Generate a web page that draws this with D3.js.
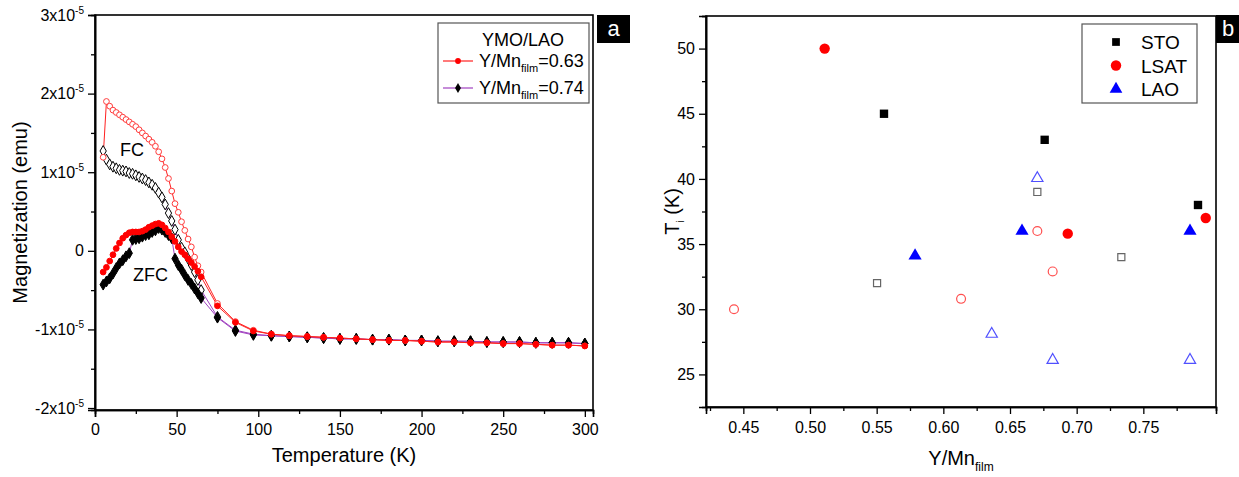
<!DOCTYPE html>
<html><head><meta charset="utf-8">
<script src="https://cdn.jsdelivr.net/npm/d3@7"></script>
<style>
body{margin:0;background:#fff;}
svg{display:block;font-family:"Liberation Sans",Arial,sans-serif;}
</style></head>
<body><svg id="c" width="1239" height="477"></svg>
<script>
// ---------- Panel a data (M in units of 1e-5 emu) ----------
const tempsA = [5,7,9,11,13,15,17,19,21,23,25,27,29,31,33,35,37,39,41,43,45,47,49,51,53,55,57,59,61,63,65,75,86,97,108,119,130,140,150,160,170,180,190,200,210,220,230,240,250,260,270,280,290,300];
const fc063 = [1.19,1.90,1.84,1.79,1.76,1.73,1.70,1.67,1.64,1.61,1.58,1.54,1.50,1.46,1.42,1.38,1.33,1.26,1.17,1.06,0.92,0.76,0.60,0.49,0.37,0.26,0.15,0.05,-0.08,-0.19,-0.27,
  -0.67,-0.90,-1.01,-1.06,-1.08,-1.09,-1.10,-1.11,-1.12,-1.13,-1.14,-1.14,-1.15,-1.16,-1.16,-1.17,-1.17,-1.18,-1.18,-1.19,-1.20,-1.20,-1.21];
const zfc063 = [-0.27,-0.21,-0.13,-0.05,0.03,0.10,0.16,0.20,0.23,0.24,0.24,0.24,0.25,0.27,0.30,0.32,0.34,0.35,0.33,0.29,0.24,0.18,0.12,0.05,-0.01,-0.05,-0.10,-0.15,-0.20,-0.26,-0.33,
  -0.70,-0.91,-1.02,-1.06,-1.08,-1.09,-1.10,-1.11,-1.12,-1.13,-1.14,-1.14,-1.15,-1.16,-1.16,-1.17,-1.17,-1.18,-1.18,-1.19,-1.20,-1.20,-1.21];
const fc074 = [1.27,1.16,1.10,1.07,1.05,1.03,1.02,1.01,0.99,0.98,0.96,0.94,0.92,0.90,0.87,0.84,0.80,0.74,0.68,0.59,0.48,0.38,0.27,0.14,0.04,-0.02,-0.10,-0.18,-0.27,-0.37,-0.50,
  -0.84,-1.01,-1.06,-1.08,-1.09,-1.10,-1.11,-1.12,-1.12,-1.13,-1.13,-1.14,-1.14,-1.15,-1.15,-1.15,-1.16,-1.16,-1.16,-1.17,-1.17,-1.17,-1.18];
const zfc074 = [-0.43,-0.39,-0.35,-0.29,-0.22,-0.16,-0.12,-0.07,-0.03,0.14,0.15,0.16,0.18,0.20,0.21,0.24,0.26,0.29,0.27,0.24,0.20,0.16,-0.10,-0.18,-0.24,-0.31,-0.37,-0.42,-0.48,-0.54,-0.60,
  -0.85,-1.02,-1.07,-1.08,-1.09,-1.10,-1.11,-1.12,-1.12,-1.13,-1.13,-1.14,-1.14,-1.15,-1.15,-1.15,-1.16,-1.16,-1.16,-1.17,-1.17,-1.17,-1.18];
const xTicksA = [0,50,100,150,200,250,300];
const yTicksA = [-2,-1,0,1,2,3];
const legendA = ["0.63","0.74"];

// ---------- Panel b data ----------
const bTicksX = [0.45,0.50,0.55,0.60,0.65,0.70,0.75];
const bTicksY = [25,30,35,40,45,50];
const stoFilledX = [0.5555,0.676,0.791], stoFilledY = [45,43,38];
const stoOpenX = [0.5503,0.6705,0.7335], stoOpenY = [32,39,34];
const lsatFilledX = [0.511,0.6933,0.7968], lsatFilledY = [50,35.8,37];
const lsatOpenX = [0.443,0.6133,0.6705,0.682], lsatOpenY = [30,30.8,36,32.9];
const laoFilledX = [0.5788,0.659,0.785], laoFilledY = [34.1,36,36];
const laoOpenX = [0.6363,0.6705,0.682,0.785], laoOpenY = [28.1,40.05,26.1,26.1];
const legendB = ["STO","LSAT","LAO"];

const svg = d3.select("#c");
const F = '"Liberation Sans",Arial,sans-serif';

// ================= Panel a =================
const ax = {l:95, r:593, t:15, b:410};
const xA = d3.scaleLinear().domain([0,305]).range([ax.l, ax.r]);
const yA = d3.scaleLinear().domain([-2.025,3]).range([ax.b, ax.t]);

function frame(box){
  svg.append("rect").attr("x",box.l).attr("y",box.t).attr("width",box.r-box.l).attr("height",box.b-box.t)
    .attr("fill","none").attr("stroke","#000").attr("stroke-width",1.6);
}
frame(ax);

const gxA = svg.append("g").attr("transform",`translate(0,${ax.b})`)
  .call(d3.axisBottom(xA).tickValues(xTicksA).tickSize(7).tickPadding(7).tickFormat(d3.format("d")));
svg.append("g").attr("transform",`translate(0,${ax.b})`)
  .call(d3.axisBottom(xA).tickValues([25,75,125,175,225,275]).tickSize(4).tickFormat(""));
svg.append("g").attr("transform",`translate(${ax.l},0)`)
  .call(d3.axisLeft(yA).tickValues(yTicksA).tickSize(7).tickFormat(""));
svg.append("g").attr("transform",`translate(${ax.l},0)`)
  .call(d3.axisLeft(yA).tickValues([-1.5,-0.5,0.5,1.5,2.5]).tickSize(4).tickFormat(""));
gxA.selectAll("text").attr("font-size",16).attr("font-family",F).attr("fill","#000");

yTicksA.forEach(v=>{
  const t = svg.append("text").attr("x",ax.l-11).attr("y",yA(v)+5.5).attr("text-anchor","end")
    .attr("font-size",16).attr("font-family",F);
  if(v===0){ t.text("0"); }
  else {
    t.append("tspan").text(v+"x10");
    t.append("tspan").attr("font-size",10).attr("dy",-7).text("-5");
  }
});

svg.append("text").attr("x",(ax.l+ax.r)/2).attr("y",462).attr("text-anchor","middle")
  .attr("font-size",20).attr("font-family",F).text("Temperature (K)");
svg.append("text").attr("transform",`translate(27,${(ax.t+ax.b)/2}) rotate(-90)`).attr("text-anchor","middle")
  .attr("font-size",20).attr("font-family",F).text("Magnetization (emu)");

const lineA = d3.line().x(d=>xA(d[0])).y(d=>yA(d[1]));
const mk = arr => tempsA.map((t,i)=>[t,arr[i]]);
const series = [
  {d:mk(fc074), line:"#a040c0", sym:d3.symbolDiamond, fill:"#fff", stroke:"#000", size:34},
  {d:mk(zfc074), line:"#a040c0", sym:d3.symbolDiamond, fill:"#000", stroke:"#000", size:34},
  {d:mk(fc063), line:"#ff2020", sym:d3.symbolCircle, fill:"#fff", stroke:"#ff3c3c", size:26},
  {d:mk(zfc063), line:"#ff2020", sym:d3.symbolCircle, fill:"#ff0000", stroke:"#ff0000", size:26}
];
series.forEach(s=>{
  svg.append("path").attr("d",lineA(s.d)).attr("fill","none").attr("stroke",s.line).attr("stroke-width",1);
});
series.forEach(s=>{
  svg.append("g").selectAll("path").data(s.d).join("path")
    .attr("transform",d=>`translate(${xA(d[0])},${yA(d[1])})`)
    .attr("d",d3.symbol().type(s.sym).size(s.size))
    .attr("fill",s.fill).attr("stroke",s.stroke).attr("stroke-width",1);
});

svg.append("text").attr("x",120).attr("y",156).attr("font-size",18).attr("font-family",F).text("FC");
svg.append("text").attr("x",133).attr("y",281).attr("font-size",18).attr("font-family",F).text("ZFC");

svg.append("rect").attr("x",438).attr("y",23).attr("width",151).attr("height",80)
  .attr("fill","#fff").attr("stroke","#555").attr("stroke-width",1.2);
svg.append("text").attr("x",523).attr("y",46).attr("text-anchor","middle").attr("font-size",18).attr("font-family",F).text("YMO/LAO");
const legCols = [{line:"#ff2020",sym:d3.symbolCircle,fill:"#ff0000",size:26},{line:"#a040c0",sym:d3.symbolDiamond,fill:"#000",size:30}];
legendA.forEach((v,i)=>{
  const y = 61 + i*27;
  svg.append("line").attr("x1",443).attr("x2",473).attr("y1",y).attr("y2",y).attr("stroke",legCols[i].line).attr("stroke-width",1.2);
  svg.append("path").attr("transform",`translate(458,${y})`).attr("d",d3.symbol().type(legCols[i].sym).size(legCols[i].size)).attr("fill",legCols[i].fill);
  const t = svg.append("text").attr("x",479).attr("y",y+6).attr("font-size",18).attr("font-family",F);
  t.append("tspan").text("Y/Mn");
  t.append("tspan").attr("font-size",11).attr("dy",5).text("film");
  t.append("tspan").attr("dy",-5).text("="+v);
});

svg.append("rect").attr("x",597).attr("y",15).attr("width",33).attr("height",28).attr("fill","#000");
svg.append("text").attr("x",613.5).attr("y",36).attr("text-anchor","middle").attr("fill","#fff").attr("font-size",22).attr("font-family",F).text("a");

// ================= Panel b =================
const bx = {l:706, r:1216, t:16, b:407};
const xB = d3.scaleLinear().domain([0.422,0.8045]).range([bx.l,bx.r]);
const yB = d3.scaleLinear().domain([22.5,52.5]).range([bx.b,bx.t]);
frame(bx);
const gxB = svg.append("g").attr("transform",`translate(0,${bx.b})`)
  .call(d3.axisBottom(xB).tickValues(bTicksX).tickSize(7).tickPadding(8).tickFormat(d3.format(".2f")));
svg.append("g").attr("transform",`translate(0,${bx.b})`)
  .call(d3.axisBottom(xB).tickValues([0.425,0.475,0.525,0.575,0.625,0.675,0.725,0.775]).tickSize(4).tickFormat(""));
const gyB = svg.append("g").attr("transform",`translate(${bx.l},0)`)
  .call(d3.axisLeft(yB).tickValues(bTicksY).tickSize(7).tickPadding(4).tickFormat(d3.format("d")));
svg.append("g").attr("transform",`translate(${bx.l},0)`)
  .call(d3.axisLeft(yB).tickValues([27.5,32.5,37.5,42.5,47.5,52.5]).tickSize(4).tickFormat(""));
svg.selectAll("g .domain").attr("stroke-width",1.6);
svg.selectAll("g .tick line").attr("stroke-width",1.3);
[gxB,gyB].forEach(g=>g.selectAll("text").attr("font-size",16).attr("font-family",F).attr("fill","#000"));

const tb = svg.append("text").attr("x",(bx.l+bx.r)/2).attr("y",465).attr("text-anchor","middle").attr("font-size",20).attr("font-family",F);
tb.append("tspan").text("Y/Mn");
tb.append("tspan").attr("font-size",12).attr("dy",6).text("film");
const ty = svg.append("text").attr("transform",`translate(679,${(bx.t+bx.b)/2}) rotate(-90)`).attr("text-anchor","middle").attr("font-size",20).attr("font-family",F);
ty.append("tspan").text("T");
ty.append("tspan").attr("font-size",10).attr("dy",5).text("i");
ty.append("tspan").attr("dy",-5).text(" (K)");

function pts(xs,ys,sym,size,fill,stroke,sw){
  svg.append("g").selectAll("path").data(xs.map((x,i)=>[x,ys[i]])).join("path")
    .attr("transform",d=>`translate(${xB(d[0])},${yB(d[1])})`)
    .attr("d",d3.symbol().type(sym).size(size))
    .attr("fill",fill).attr("stroke",stroke).attr("stroke-width",sw);
}
pts(stoOpenX,stoOpenY,d3.symbolSquare,50,"#fff","#666",1.2);
pts(lsatOpenX,lsatOpenY,d3.symbolCircle,62,"#fff","#ff5050",1.2);
pts(laoOpenX,laoOpenY,d3.symbolTriangle,55,"#fff","#5050ff",1.2);
pts(stoFilledX,stoFilledY,d3.symbolSquare,70,"#000","none",0);
pts(lsatFilledX,lsatFilledY,d3.symbolCircle,85,"#ff0000","none",0);
pts(laoFilledX,laoFilledY,d3.symbolTriangle,75,"#0000ff","none",0);

svg.append("rect").attr("x",1082).attr("y",24).attr("width",115).attr("height",79)
  .attr("fill","#fff").attr("stroke","#555").attr("stroke-width",1.2);
const legSym = [[d3.symbolSquare,"#000",60],[d3.symbolCircle,"#ff0000",85],[d3.symbolTriangle,"#0000ff",70]];
legendB.forEach((n,i)=>{
  const y = 42 + i*23.5;
  svg.append("path").attr("transform",`translate(1116,${y})`).attr("d",d3.symbol().type(legSym[i][0]).size(legSym[i][2])).attr("fill",legSym[i][1]);
  svg.append("text").attr("x",1141).attr("y",y+7).attr("font-size",19).attr("font-family",F).text(n);
});
svg.append("rect").attr("x",1216).attr("y",15).attr("width",23).attr("height",28).attr("fill","#000");
svg.append("text").attr("x",1228).attr("y",36).attr("text-anchor","middle").attr("fill","#fff").attr("font-size",22).attr("font-family",F).text("b");
</script></body></html>
